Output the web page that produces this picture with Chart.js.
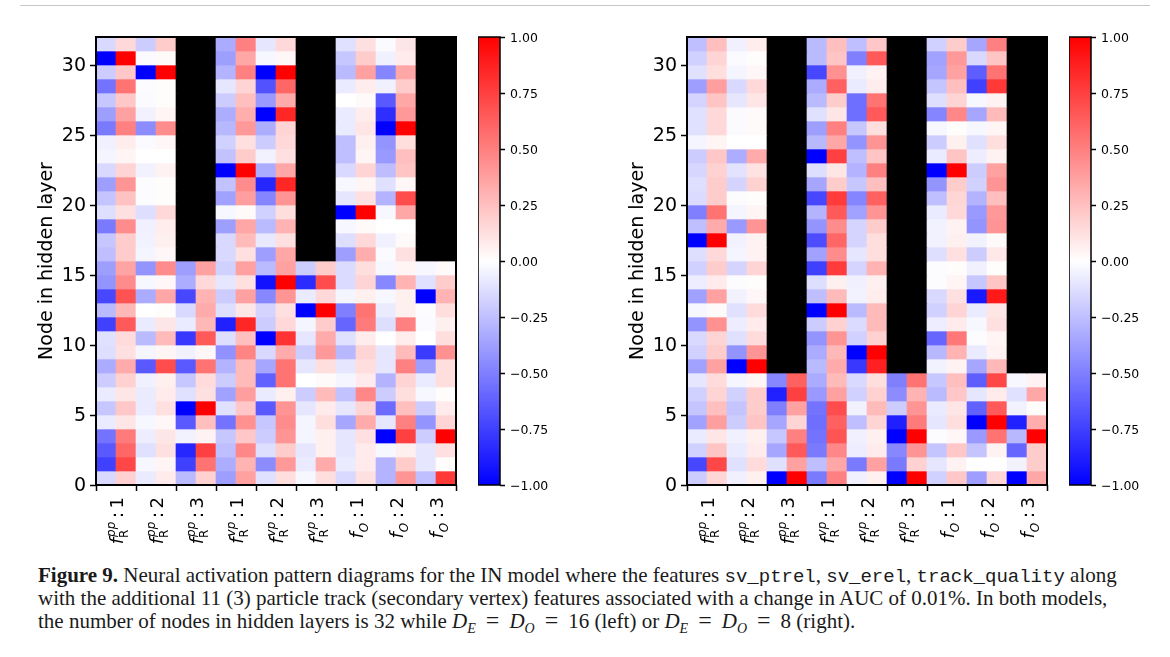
<!DOCTYPE html>
<html>
<head>
<meta charset="utf-8">
<script src="https://cdn.jsdelivr.net/npm/chart.js@4"></script>
<style>
  html, body { margin: 0; padding: 0; background: #fff; width: 1170px; height: 657px; overflow: hidden; }
  canvas { position: absolute; }
  #rule { position: absolute; left: 20px; top: 5px; width: 1130px; height: 1px; background: #c8c8c8; }
  .cap { position: absolute; left: 38px; white-space: nowrap; font: 21px/22px "Liberation Serif", serif; color: #1a1a1a; }
  .cap code { font: 19px "Liberation Mono", monospace; }
  .cap sub { font-size: 14px; line-height: 0; }
  .cap .eq { margin: 0 10px; font-size: 24px; line-height: 0; }
</style>
</head>
<body>
<div id="rule"></div>
<canvas id="heatLeft" style="left:30px;top:20px"></canvas>
<canvas id="barLeft" style="left:478px;top:20px"></canvas>
<canvas id="heatRight" style="left:621px;top:20px"></canvas>
<canvas id="barRight" style="left:1069px;top:20px"></canvas>
<div class="cap" style="top:564px"><b>Figure 9.</b> Neural activation pattern diagrams for the IN model where the features <code>sv_ptrel</code>, <code>sv_erel</code>, <code>track_quality</code> along</div>
<div class="cap" style="top:587px">with the additional 11 (3) particle track (secondary vertex) features associated with a change in AUC of 0.01%. In both models,</div>
<div class="cap" style="top:610px">the number of nodes in hidden layers is 32 while <i>D<sub>E</sub></i><span class="eq">=</span><i>D<sub>O</sub></i><span class="eq">=</span>16 (left) or <i>D<sub>E</sub></i><span class="eq">=</span><i>D<sub>O</sub></i><span class="eq">=</span>8 (right).</div>
<script>
const N = null; // dead node, painted black

// x tick labels, one per pair of columns
const tickSup = ['pp', 'pp', 'pp', 'vp', 'vp', 'vp', '', '', ''];
const tickSub = ['R', 'R', 'R', 'R', 'R', 'R', 'O', 'O', 'O'];
const tickNum = ['1', '2', '3', '1', '2', '3', '1', '2', '3'];
const yTicks = [0, 5, 10, 15, 20, 25, 30];
const barTicks = [-1, -0.75, -0.5, -0.25, 0, 0.25, 0.5, 0.75, 1];
const yTitle = 'Node in hidden layer';

// activations, top row (node 31) first, 18 columns each
const leftRows = [
  [-.15,.15,-.2,.2,N,N,-.33,.5,-.1,.15,N,N,-.12,.12,-.02,.1,N,N],
  [-1,1,-.02,.02,N,N,-.38,.35,-.03,.03,N,N,-.22,.2,-.06,.08,N,N],
  [-.2,.22,-1,1,N,N,-.3,.5,-1,1,N,N,-.27,.37,-.48,.35,N,N],
  [-.55,.55,-.01,.01,N,N,-.1,.17,-.68,.6,N,N,-.08,.07,-.06,.2,N,N],
  [-.22,.22,-.02,.01,N,N,-.2,.25,-.4,.33,N,N,0,.02,-.65,.35,N,N],
  [-.38,.37,-.05,.04,N,N,-.32,.32,-1,.85,N,N,-.08,.07,-.82,.4,N,N],
  [-.52,.5,-.45,.45,N,N,-.28,.4,-.32,.17,N,N,-.08,.1,-1,1,N,N],
  [-.06,.07,-.02,.03,N,N,-.18,.12,-.2,.15,N,N,-.25,.06,-.42,.13,N,N],
  [-.04,.04,0,0,N,N,-.24,.2,-.05,.12,N,N,-.25,.04,-.4,.25,N,N],
  [-.15,.17,-.05,.05,N,N,-1,1,-.33,.35,N,N,-.15,.17,-.26,.23,N,N],
  [-.38,.42,-.01,.01,N,N,-.24,.45,-.85,.85,N,N,-.03,.04,-.12,.03,N,N],
  [-.23,.24,-.01,.01,N,N,-.37,.38,-.48,.42,N,N,-.1,.12,-.3,.7,N,N],
  [-.13,.12,-.13,.15,N,N,-.03,.02,-.18,.13,N,N,-1,1,-.03,.35,N,N],
  [-.52,.45,-.06,.07,N,N,-.38,.35,-.27,.3,N,N,-.03,.02,0,0,N,N],
  [-.22,.2,-.05,.06,N,N,-.15,.27,-.09,.12,N,N,-.13,.15,-.06,.02,N,N],
  [-.25,.2,-.04,.03,N,N,-.15,.12,-.38,.35,N,N,-.38,.32,-.02,.12,N,N],
  [-.38,.36,-.42,.45,-.38,.37,-.18,.37,-.27,.37,-.2,.2,-.14,.13,-.03,.04,-.03,.02],
  [-.42,.45,-.03,.03,-.32,.15,-.1,.12,-.93,1,-.83,.7,-.14,.17,-.47,.3,-.12,.2],
  [-.72,.68,-.33,.35,-.72,.3,-.2,.37,-.47,.42,-.08,.15,-.04,.06,-.03,.06,-1,.3],
  [-.27,.28,0,.01,-.15,.33,-.13,.1,-.17,.12,-1,1,-.5,.55,-.08,.06,-.01,.13],
  [-.75,.65,-.08,.1,-.08,.28,-.87,.85,-.2,.15,-.04,.2,-.6,.52,-.13,.5,-.02,.06],
  [-.12,.14,-.27,.27,-.78,.65,-.13,.25,-1,.8,-.1,.33,-.12,.07,0,.07,0,.13],
  [-.13,.12,-.04,.04,-.05,.03,-.43,.48,-.15,.33,-.2,.4,-.28,.17,-.1,.27,-.77,.43],
  [-.33,.33,-.65,.7,-.65,.55,-.3,.27,-.35,.55,-.1,.13,-.1,.13,-.1,.5,-.38,.13],
  [-.2,.18,-.06,.06,-.22,.14,-.2,.27,-.62,.55,0,.02,-.04,.08,-.3,.17,-.08,.13],
  [-.08,.1,-.08,.08,-.12,.12,-.37,.38,-.08,.06,-.2,.27,-.24,.47,-.2,.13,-.03,.01],
  [-.22,.22,-.08,.12,-1,1,-.12,.22,-.65,.42,-.1,.08,-.1,.17,-.58,.25,-.2,.08],
  [-.08,.1,-.03,.03,-.65,.25,-.55,.43,-.22,.45,-.04,.13,-.35,.33,-.1,.5,-.42,.17],
  [-.55,.52,-.07,.1,-.05,.05,-.22,.22,-.2,.42,-.04,.06,-.1,.12,-1,.75,-.2,1],
  [-.65,.6,-.12,.12,-.85,.75,-.25,.47,-.13,.2,-.1,.06,-.1,.08,-.03,.06,-.1,.12],
  [-.75,.72,-.03,.04,-.75,.55,-.32,.3,-.45,.4,-.08,.33,-.08,.08,-.3,.2,-.1,.01],
  [-.15,.18,-.08,.08,-.27,.18,-.38,.37,-.12,.13,-.03,.13,-.15,.12,-.3,.42,-.25,.78]
];
const rightRows = [
  [-.25,.25,-.06,.07,N,N,-.27,.25,-.25,.22,N,N,-.18,.2,-.35,.5,N,N],
  [-.18,.17,-.02,.01,N,N,-.27,.23,-.5,.65,N,N,-.37,.4,-.15,.23,N,N],
  [-.12,.13,-.04,.03,N,N,-.72,.43,-.06,.05,N,N,-.35,.37,-.63,.55,N,N],
  [-.38,.38,-.15,.15,N,N,-.33,.62,-.08,.07,N,N,-.23,.25,-.75,.78,N,N],
  [-.17,.23,-.1,.1,N,N,-.27,.2,-.57,.55,N,N,-.13,.17,-.03,.05,N,N],
  [-.12,.15,-.02,.02,N,N,-.12,.1,-.57,.65,N,N,-.48,.47,-.35,.27,N,N],
  [-.12,.15,-.02,.02,N,N,-.38,.5,-.22,.13,N,N,-.03,.01,-.03,.04,N,N],
  [-.04,.04,0,0,N,N,-.28,.35,-.42,.42,N,N,-.2,.06,-.12,.13,N,N],
  [-.2,.22,-.32,.33,N,N,-1,.75,-.25,.23,N,N,-.08,.23,-.07,.05,N,N],
  [-.16,.18,-.11,.11,N,N,-.13,.1,-.3,.5,N,N,-1,1,-.2,.37,N,N],
  [-.13,.2,-.17,.18,N,N,-.35,.2,-.22,.25,N,N,-.42,.2,-.18,.42,N,N],
  [-.14,.2,-.01,.01,N,N,-.72,.77,-.48,.62,N,N,-.25,.16,-.3,.25,N,N],
  [-.5,.55,-.04,.04,N,N,-.3,.65,-.37,.42,N,N,-.08,.15,-.4,.4,N,N],
  [-.25,.33,-.4,.42,N,N,-.42,.45,-.17,.2,N,N,-.05,.05,-.42,.42,N,N],
  [-1,1,-.05,.05,N,N,-.7,.6,-.17,.13,N,N,-.05,.06,-.05,.02,N,N],
  [-.13,.15,-.04,.05,N,N,-.37,.45,-.1,.13,N,N,-.13,.12,-.2,.09,N,N],
  [-.18,.2,-.17,.17,N,N,-.75,.77,-.17,.3,N,N,-.01,.01,-.06,.01,N,N],
  [-.07,.08,-.01,.01,N,N,-.13,.06,-.06,.06,N,N,-.01,.04,-.22,.23,N,N],
  [-.37,.37,-.05,.03,N,N,-.25,.27,-.05,.07,N,N,-.15,.12,-.9,.9,N,N],
  [-.03,.02,-.12,.14,N,N,-1,1,-.27,.27,N,N,-.18,.17,-.08,.1,N,N],
  [-.42,.43,-.07,.08,N,N,-.2,.18,-.14,.27,N,N,-.07,.08,-.03,.12,N,N],
  [-.15,.17,-.12,.14,N,N,-.42,.42,-.18,.18,N,N,-.6,.53,-.01,.04,N,N],
  [-.18,.2,-.42,.42,N,N,-.33,.28,-1,1,N,N,-.28,.3,-.08,.05,N,N],
  [-.37,.37,-1,1,N,N,-.27,.33,-.78,.87,N,N,-.05,.05,-.35,.28,N,N],
  [-.1,.14,-.04,.04,-.47,.62,-.33,.27,-.15,.13,-.5,.55,-.22,.25,-.63,.72,-.03,.05],
  [-.18,.17,-.18,.2,-.87,.75,-.4,.37,-.18,.18,-.45,.3,-.27,.22,-.1,.08,-.12,.35],
  [-.23,.25,-.23,.2,-.5,.37,-.55,.7,-.05,.27,-.2,.42,-.08,.1,-.62,.65,-.05,.01],
  [-.37,.38,-.2,.23,-.35,.17,-.57,.62,-.25,.17,-.88,.52,-.1,.13,-1,1,-.87,.32],
  [-.08,.1,-.06,.06,-.22,.5,-.55,.67,-.06,.06,-1,1,-.01,.03,-.4,.55,-.28,1],
  [-.18,.23,-.08,.08,-.35,.65,-.52,.47,-.07,.08,-.47,.42,-.23,.22,-.23,.05,-.6,.2],
  [-.72,.72,-.12,.14,-.12,.37,-.25,.35,-.52,.37,-.52,.18,-.1,.05,0,0,-.05,.2],
  [-.2,.16,-.06,.06,-1,1,-.52,.5,-.06,.06,-1,1,-.18,.22,-.38,.16,-1,.35]
];

Chart.defaults.font.family = '"DejaVu Sans", sans-serif';
Chart.defaults.color = '#000';
Chart.defaults.animation = false;

const TOP_PAD = 17;   // plot top sits at y=37 on the page
const AXIS_FONT = 19;

function bwr(v) {
  if (v === null) return '#000';
  if (v < 0) {
    const c = Math.round(255 * (1 + v));
    return 'rgb(' + c + ',' + c + ',255)';
  }
  const c = Math.round(255 * (1 - v));
  return 'rgb(255,' + c + ',' + c + ')';
}

const frame = {
  id: 'frame',
  afterDatasetsDraw(chart) {
    const a = chart.chartArea, ctx = chart.ctx;
    ctx.save();
    ctx.strokeStyle = '#000';
    ctx.lineWidth = chart.options.frameWidth || 2;
    ctx.strokeRect(a.left, a.top, a.right - a.left, a.bottom - a.top);
    ctx.restore();
  }
};

// f_R^pp : 1 style labels, rotated, hung from the axis
const mathTicks = {
  id: 'mathTicks',
  afterDraw(chart) {
    const ctx = chart.ctx, xs = chart.scales.x;
    const main = 'italic 18px "DejaVu Sans"';
    const upright = '18px "DejaVu Sans"';
    const small = 'italic 12px "DejaVu Sans"';
    tickNum.forEach((n, i) => {
      const x0 = xs.getPixelForValue(2 * i + 1);
      ctx.save();
      ctx.translate(x0 + 7, xs.top + 12);
      ctx.rotate(-Math.PI / 2);
      ctx.fillStyle = '#000';
      ctx.textBaseline = 'alphabetic';
      ctx.textAlign = 'left';
      const tail = '\u2009:\u2009' + n;
      ctx.font = upright;
      const tailW = ctx.measureText(tail).width;
      ctx.font = main;
      const fW = ctx.measureText('f').width + 1;
      ctx.font = small;
      const scriptW = Math.max(ctx.measureText(tickSub[i]).width, ctx.measureText(tickSup[i]).width);
      let pos = -(fW + scriptW + tailW);
      ctx.font = main;
      ctx.fillText('f', pos, 0);
      pos += fW;
      ctx.font = small;
      if (tickSup[i]) ctx.fillText(tickSup[i], pos, -8);
      // the subscript letter is upright R, italic O
      ctx.font = tickSub[i] === 'R' ? '12px "DejaVu Sans"' : small;
      ctx.fillText(tickSub[i], pos - 1, 4.5);
      pos += scriptW;
      ctx.font = upright;
      ctx.fillText(tail, pos, 0);
      ctx.restore();
    });
  }
};

function drawHeat(id, rows) {
  const nRows = rows.length;
  // one floating-bar dataset per row, colour comes from the value
  const datasets = rows.map((vals, r) => {
    const node = nRows - 1 - r;
    return {
      data: vals.map((v, c) => ({ x: c + 0.5, y: [node, node + 1] })),
      backgroundColor: vals.map(bwr),
      borderWidth: 0,
      barThickness: 20,
      grouped: false
    };
  });
  const canvas = document.getElementById(id);
  canvas.width = 436;
  canvas.height = 535;
  return new Chart(canvas, {
    type: 'bar',
    data: { datasets },
    options: {
      responsive: false,
      layout: { padding: { top: TOP_PAD, right: 10, left: 0, bottom: 0 } },
      plugins: { legend: { display: false }, tooltip: { enabled: false } },
      scales: {
        x: {
          type: 'linear', min: 0, max: 18, offset: false,
          afterBuildTicks: s => { s.ticks = tickNum.map((_, i) => ({ value: 2 * i + 1 })); },
          afterFit: s => { s.height = 70; },
          ticks: { display: false },
          grid: { drawOnChartArea: false, tickLength: 6, tickWidth: 1.5, tickColor: '#000' },
          border: { display: false }
        },
        y: {
          min: 0, max: nRows,
          afterFit: s => { s.width = 66; },
          afterBuildTicks: s => { s.ticks = yTicks.map(value => ({ value })); },
          title: { display: true, text: yTitle, font: { size: AXIS_FONT }, padding: { top: 6, bottom: 0 } },
          ticks: { font: { size: AXIS_FONT }, padding: 4, autoSkip: false, labelOffset: 1 },
          grid: { drawOnChartArea: false, tickLength: 6, tickWidth: 1.5, tickColor: '#000' },
          border: { display: false }
        }
      }
    },
    plugins: [frame, mathTicks]
  });
}

function drawBar(id) {
  const canvas = document.getElementById(id);
  canvas.width = 92;
  canvas.height = 490;
  return new Chart(canvas, {
    type: 'bar',
    data: {
      labels: ['scale'],
      datasets: [{
        data: [[barTicks[0], barTicks[barTicks.length - 1]]],
        borderWidth: 0,
        barPercentage: 1,
        categoryPercentage: 1,
        backgroundColor(ctx) {
          const a = ctx.chart.chartArea;
          if (!a) return '#fff';
          const g = ctx.chart.ctx.createLinearGradient(0, a.bottom, 0, a.top);
          g.addColorStop(0, 'rgb(0,0,255)');
          g.addColorStop(0.5, 'rgb(255,255,255)');
          g.addColorStop(1, 'rgb(255,0,0)');
          return g;
        }
      }]
    },
    options: {
      frameWidth: 1.5,
      responsive: false,
      layout: { padding: { top: TOP_PAD, bottom: 25, left: 0, right: 0 } },
      plugins: { legend: { display: false }, tooltip: { enabled: false } },
      scales: {
        x: { display: false },
        y: {
          position: 'right',
          min: -1, max: 1,
          afterFit: s => { s.width = 70; },
          afterBuildTicks: s => { s.ticks = barTicks.map(value => ({ value })); },
          ticks: {
            font: { size: 12.5 }, padding: 5, autoSkip: false, labelOffset: 1.5,
            callback: v => v.toFixed(2).replace('-', '\u2212')
          },
          grid: { drawOnChartArea: false, tickLength: 5, tickWidth: 1.5, tickColor: '#000' },
          border: { display: false }
        }
      }
    },
    plugins: [frame]
  });
}

drawHeat('heatLeft', leftRows);
drawBar('barLeft');
drawHeat('heatRight', rightRows);
drawBar('barRight');
</script>
</body>
</html>
